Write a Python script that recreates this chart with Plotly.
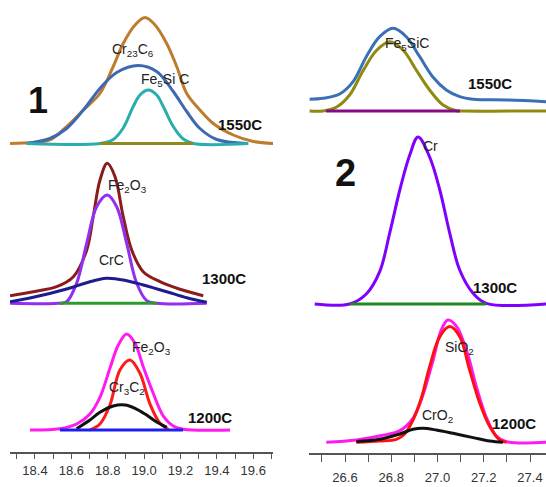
import plotly.graph_objects as go

W, H = 546, 487

# ---------------- Panel 1 (2θ around 19°) ----------------
# 1550C
p1_1550_total_x = [18.263,18.391,18.482,18.574,18.666,18.757,18.830,18.885,18.950,19.005,19.060,19.124,19.179,19.234,19.307,19.380,19.490,19.600,19.710]
p1_1550_total_y = [0,1,3.5,17,33.5,50,77,100,118.5,126,118.5,100,77,50,33.5,20,8.5,2,0]
p1_1550_cr23c6_x = [18.354,18.482,18.574,18.666,18.757,18.849,18.968,19.069,19.160,19.234,19.307,19.399,19.564]
p1_1550_cr23c6_y = [0,5,15,33.5,55,71,78,72,52,32,15,4,0]
p1_1550_fe5sic_x = [18.354,18.757,18.830,18.885,18.940,18.977,19.023,19.069,19.105,19.160,19.215,19.270,19.573]
p1_1550_fe5sic_y = [0,0,4,15.5,37,48.5,53.5,48.5,37,17,4.5,0,0]
p1_1550_base_x = [18.757,19.270]
p1_1550_base_y = [0,0]
# 1300C
p1_1300_total_x = [18.263,18.391,18.519,18.611,18.684,18.720,18.757,18.797,18.840,18.885,18.932,18.995,19.087,19.197,19.325]
p1_1300_total_y = [7.6,11.6,16.6,26.6,53,86.6,123,140,126.6,86.6,53,31.6,21.6,14,7.6]
p1_1300_fe2o3_x = [18.263,18.528,18.574,18.629,18.684,18.739,18.797,18.849,18.904,18.959,19.014,19.069,19.344]
p1_1300_fe2o3_y = [0,0,1.6,20,60,96.6,108.3,96.6,60,20,2.7,0,0]
p1_1300_crc_x = [18.263,18.391,18.574,18.684,18.794,18.904,18.995,19.124,19.234,19.344]
p1_1300_crc_y = [1.6,6,14.3,20.6,25,22.6,18.3,11.6,5.6,1]
p1_1300_base_x = [18.537,19.071]
p1_1300_base_y = [0,0]
# 1200C
p1_1200_total_x = [18.373,18.537,18.629,18.702,18.757,18.812,18.858,18.904,18.950,18.995,19.050,19.105,19.160,19.215,19.472]
p1_1200_total_y = [0,1.3,6,16,32.7,61.7,85,96,86.7,63.3,36.7,14,4,0.7,0]
p1_1200_fe2o3_x = [18.702,18.757,18.812,18.867,18.922,18.977,19.032,19.087,19.133]
p1_1200_fe2o3_y = [0,6,25,60,70,56.7,26,6.7,0.7]
p1_1200_cr3c2_x = [18.629,18.702,18.757,18.830,18.895,18.950,19.005,19.060,19.124]
p1_1200_cr3c2_y = [1.3,10,17.7,24,25,21.7,16,9,2.7]
p1_1200_base_x = [18.537,19.214]
p1_1200_base_y = [0,0]

# ---------------- Panel 2 (2θ around 27°) ----------------
p2_1550_total_x = [26.447,26.505,26.577,26.635,26.692,26.750,26.808,26.865,26.923,26.981,27.038,27.096,27.154,27.298,27.470]
p2_1550_total_y = [11.7,12.7,17,29.3,54.3,74.3,82.7,74.3,54.3,33.7,21,14.3,11.7,11,9.3]
p2_1550_fe5sic_x = [26.447,26.505,26.562,26.620,26.678,26.735,26.793,26.851,26.908,26.966,27.024,27.081,27.110,27.470]
p2_1550_fe5sic_y = [0,0,3.7,16,40.3,60.3,69.3,61,41,21,6,0.3,0,0]
p2_1550_base_x = [26.518,27.097]
p2_1550_base_y = [0,0]
p2_1300_cr_x = [26.469,26.620,26.692,26.750,26.793,26.837,26.880,26.916,26.966,27.010,27.053,27.096,27.154,27.211,27.470]
p2_1300_cr_y = [0,0,10,32.3,70.7,114,149,167,147,114,70.7,34,10.7,0.7,0]
p2_1300_base_x = [26.622,27.210]
p2_1300_base_y = [0,0]
p2_1200_total_x = [26.519,26.649,26.764,26.837,26.894,26.937,26.981,27.016,27.045,27.081,27.125,27.168,27.211,27.254,27.298,27.470]
p2_1200_total_y = [0,2.3,7,11.7,24,47.3,82.3,112.3,122.3,116.3,92.3,55.7,25,6.3,0.7,0]
p2_1200_sio2_x = [26.649,26.750,26.822,26.858,26.894,26.930,26.966,27.010,27.053,27.096,27.139,27.183,27.226,27.269,27.298]
p2_1200_sio2_y = [0,1.3,3,8.3,22.3,44,75.7,105.7,115.7,105.7,72.3,39,15.7,2.3,0]
p2_1200_cro2_x = [26.649,26.750,26.837,26.894,26.937,26.995,27.067,27.154,27.226,27.283]
p2_1200_cro2_y = [0.7,3,8.3,13,14,12.3,9,4.7,1.3,0]

fig = go.Figure()

def add(x, y, xa, ya, color, width=3, spline=True):
    fig.add_trace(go.Scatter(
        x=x, y=y, xaxis=xa, yaxis=ya, mode="lines",
        line=dict(color=color, width=width, shape="spline" if spline else "linear", smoothing=1.0),
        hoverinfo="skip", showlegend=False))

# panel 1, 1550
add(p1_1550_total_x, p1_1550_total_y, "x", "y", "#BC7D2E")
add(p1_1550_cr23c6_x, p1_1550_cr23c6_y, "x", "y", "#3D68B2")
add(p1_1550_fe5sic_x, p1_1550_fe5sic_y, "x", "y", "#2BADAE")
add(p1_1550_base_x, p1_1550_base_y, "x", "y", "#8E8A1C", spline=False)
# panel 1, 1300
add(p1_1300_total_x, p1_1300_total_y, "x", "y2", "#8B1C1C")
add(p1_1300_fe2o3_x, p1_1300_fe2o3_y, "x", "y2", "#9130F0")
add(p1_1300_crc_x, p1_1300_crc_y, "x", "y2", "#1C1C8E")
add(p1_1300_base_x, p1_1300_base_y, "x", "y2", "#2E9A2E", spline=False)
# panel 1, 1200
add(p1_1200_total_x, p1_1200_total_y, "x", "y3", "#FF1AF0")
add(p1_1200_fe2o3_x, p1_1200_fe2o3_y, "x", "y3", "#FF1A1A")
add(p1_1200_cr3c2_x, p1_1200_cr3c2_y, "x", "y3", "#111111")
add(p1_1200_base_x, p1_1200_base_y, "x", "y3", "#1E1EF0", spline=False)
# panel 2, 1550
add(p2_1550_total_x, p2_1550_total_y, "x2", "y4", "#3A70B5")
add(p2_1550_fe5sic_x, p2_1550_fe5sic_y, "x2", "y4", "#8E8A12")
add(p2_1550_base_x, p2_1550_base_y, "x2", "y4", "#850A85", spline=False)
# panel 2, 1300
add(p2_1300_cr_x, p2_1300_cr_y, "x2", "y5", "#8000FF")
add(p2_1300_base_x, p2_1300_base_y, "x2", "y5", "#1E8A1E", spline=False)
# panel 2, 1200
add(p2_1200_total_x, p2_1200_total_y, "x2", "y6", "#FF1AF0")
add(p2_1200_sio2_x, p2_1200_sio2_y, "x2", "y6", "#FF1010")
add(p2_1200_cro2_x, p2_1200_cro2_y, "x2", "y6", "#111111")

def ydom(b, t, pad=6):
    return dict(domain=[1 - (b + pad) / H, 1 - t / H], range=[-pad, b - t],
                visible=False, fixedrange=True)

NARROW = "Liberation Sans Narrow, Arial Narrow, Liberation Sans, Arial"
tickfont = dict(family=NARROW, size=13, color="#333333")

xcommon = dict(showline=True, linecolor="#555555", linewidth=1.5, ticks="outside",
               tickcolor="#555555", tickwidth=1.2, showgrid=False, zeroline=False,
               anchor="free", tickfont=tickfont, tickformat=".1f", fixedrange=True)

fig.update_layout(
    width=W, height=H, margin=dict(l=0, r=0, t=0, b=0),
    paper_bgcolor="white", plot_bgcolor="white",
    xaxis=dict(domain=[10 / W, 273 / W], range=[18.2626, 19.7084], position=1 - 453 / H,
               tick0=18.4, dtick=0.2, ticklen=5, ticklabelstandoff=1,
               minor=dict(dtick=0.1, tick0=18.4, ticks="outside", ticklen=5, tickcolor="#555555"),
               **xcommon),
    xaxis2=dict(domain=[309 / W, 1.0], range=[26.4443, 27.4692], position=1 - 454 / H,
                tick0=26.6, dtick=0.2, ticklen=7, ticklabelstandoff=5,
                minor=dict(dtick=0.1, tick0=26.6, ticks="outside", ticklen=7, tickcolor="#555555"),
                **xcommon),
    yaxis=dict(anchor="x", **ydom(143.5, 5)),
    yaxis2=dict(anchor="x", **ydom(303.3, 150)),
    yaxis3=dict(anchor="x", **ydom(430, 320)),
    yaxis4=dict(anchor="x2", **ydom(111, 5)),
    yaxis5=dict(anchor="x2", **ydom(304, 120)),
    yaxis6=dict(anchor="x2", **ydom(442.3, 310)),
)

lab = dict(family=NARROW, size=14, color="#222222")
temp = dict(family=NARROW, size=15, color="#111111")
big = dict(family=NARROW, size=36, color="#111111")

annos = [
    ("<b>1</b>", "x", "y", 18.416, 43.5, big),
    ("Cr<sub>23</sub>C<sub>6</sub>", "x", "y", 18.939, 93.5, lab),
    ("Fe<sub>5</sub>Si C", "x", "y", 19.115, 63.5, lab),
    ("<b>1550C</b>", "x", "y", 19.527, 19.5, temp),
    ("Fe<sub>2</sub>O<sub>3</sub>", "x", "y2", 18.911, 117, lab),
    ("CrC", "x", "y2", 18.823, 43, lab),
    ("<b>1300C</b>", "x", "y2", 19.439, 25, temp),
    ("Fe<sub>2</sub>O<sub>3</sub>", "x", "y3", 19.038, 82, lab),
    ("Cr<sub>3</sub>C<sub>2</sub>", "x", "y3", 18.906, 42, lab),
    ("<b>1200C</b>", "x", "y3", 19.362, 13, temp),
    ("Fe<sub>5</sub>SiC", "x2", "y4", 26.868, 67, lab),
    ("<b>1550C</b>", "x2", "y4", 27.227, 28, temp),
    ("<b>2</b>", "x2", "y5", 26.604, 131, dict(big, size=38)),
    ("Cr", "x2", "y5", 26.968, 158, lab),
    ("<b>1300C</b>", "x2", "y5", 27.249, 17, temp),
    ("SiO<sub>2</sub>", "x2", "y6", 27.093, 94, lab),
    ("CrO<sub>2</sub>", "x2", "y6", 27.002, 26, lab),
    ("<b>1200C</b>", "x2", "y6", 27.331, 19, temp),
]
for text, xr, yr, xv, yv, font in annos:
    fig.add_annotation(text=text, xref=xr, yref=yr, x=xv, y=yv, showarrow=False,
                       font=font, xanchor="center", yanchor="middle")

fig.write_html("out.html")
